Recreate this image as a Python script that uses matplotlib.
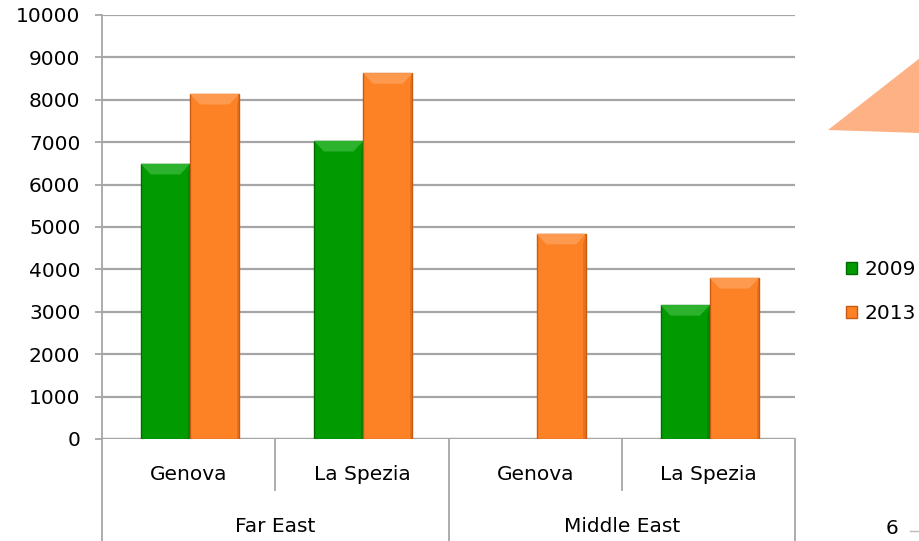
import matplotlib
matplotlib.use("Agg")
import matplotlib.pyplot as plt
from matplotlib.patches import Polygon
from matplotlib.transforms import blended_transform_factory
import numpy as np

# Data
regions = ["Far East", "Middle East"]
ports = ["Genova", "La Spezia", "Genova", "La Spezia"]
years = ["2009", "2013"]
values_2009 = [6490, 7030, 0, 3160]
values_2013 = [8140, 8630, 4840, 3800]
yticks = [0, 1000, 2000, 3000, 4000, 5000, 6000, 7000, 8000, 9000, 10000]

green = "#019A01"
green_edge = "#016A01"
orange = "#FD8226"
orange_edge = "#C65A12"
grid_col = "#A6A6A6"

plt.rcParams["font.family"] = ["DejaVu Sans"]
FS = 14.5

W, H = 920, 541
fig = plt.figure(figsize=(W / 100, H / 100), dpi=100)
ax = fig.add_axes([102 / W, (H - 439) / H, (795 - 102) / W, (439 - 15) / H])

x = np.arange(len(ports))
bw = 0.284
shift = 0.008


def draw_bars(xs, vals, color, edge, light):
    for xi, v in zip(xs, vals):
        if v <= 0:
            continue
        ax.bar(xi, v, width=bw, color=color, edgecolor=edge, linewidth=1.0, zorder=3)
        # bevelled top highlight
        bev_x = bw * 0.2
        bev_y = 250
        ax.add_patch(Polygon([[xi - bw / 2, v], [xi + bw / 2, v],
                              [xi + bw / 2 - bev_x, v - bev_y],
                              [xi - bw / 2 + bev_x, v - bev_y]],
                             closed=True, facecolor=light, edgecolor="none", zorder=4))
        # darker right side bevel
        ax.add_patch(Polygon([[xi + bw / 2, v], [xi + bw / 2, 0],
                              [xi + bw / 2 - bw * 0.05, 0],
                              [xi + bw / 2 - bw * 0.05, v - bev_y]],
                             closed=True, facecolor=edge, edgecolor="none", alpha=0.4, zorder=4))


draw_bars(x - bw / 2 + shift, values_2009, green, green_edge, "#2CB22C")
draw_bars(x + bw / 2 + shift, values_2013, orange, orange_edge, "#FE9A50")

ax.set_xlim(-0.5, len(ports) - 0.5)
ax.set_ylim(0, 10000)
ax.set_yticks(yticks)
ax.set_yticklabels([str(t) for t in yticks], fontsize=FS)
ax.yaxis.grid(True, color=grid_col, linewidth=1.6, zorder=0)
ax.set_axisbelow(True)
ax.tick_params(axis="y", length=5, width=1.3, color=grid_col, pad=10.5)
ax.set_xticks([])

for s in ["top", "right", "bottom"]:
    ax.spines[s].set_visible(False)
ax.spines["left"].set_color(grid_col)
ax.spines["left"].set_linewidth(1.3)

# zero line
ax.axhline(0, color=grid_col, linewidth=1.6, zorder=2)

# hierarchical category axis
tr = blended_transform_factory(ax.transData, ax.transAxes)
low_inner = -51 / 424
low_outer = -(541 - 439) / 424 - 0.01
for xb in [0.5, 2.5]:
    ax.plot([xb, xb], [0, low_inner], color=grid_col, lw=1.3, transform=tr, clip_on=False)
for xb in [-0.5, 1.5, 3.5]:
    ax.plot([xb, xb], [0, low_outer], color=grid_col, lw=1.3, transform=tr, clip_on=False)

for xi, p in zip(x, ports):
    ax.text(xi, -36 / 424, p, transform=tr, ha="center", va="center", fontsize=FS)
for i, r in enumerate(regions):
    ax.text(2 * i + 0.5, -88 / 424, r, transform=tr, ha="center", va="center", fontsize=FS)

# legend
handles = [plt.Rectangle((0, 0), 1, 1, facecolor=green, edgecolor=green_edge),
           plt.Rectangle((0, 0), 1, 1, facecolor=orange, edgecolor=orange_edge)]
fig.legend(handles, years, loc="upper left", bbox_to_anchor=(846 / W, 1 - 260 / H),
           frameon=False, fontsize=FS, handlelength=0.55, handleheight=0.55,
           handletextpad=0.35, labelspacing=1.25, borderaxespad=0, borderpad=0)

# decorative shape at upper right
fig.patches.append(Polygon([[828 / W, 1 - 130 / H], [W / W, 1 - 58 / H], [W / W, 1 - 133 / H]],
                           closed=True, transform=fig.transFigure, facecolor="#FDB185",
                           edgecolor="none"))

# page number
fig.text(892 / W, 1 - 529 / H, "6", ha="center", va="center", fontsize=FS)
fig.add_artist(plt.Line2D([910 / W, 920 / W], [1 - 531 / H, 1 - 531 / H],
                          color="#BBBBBB", lw=1, transform=fig.transFigure))

fig.savefig("out.png", dpi=100)
